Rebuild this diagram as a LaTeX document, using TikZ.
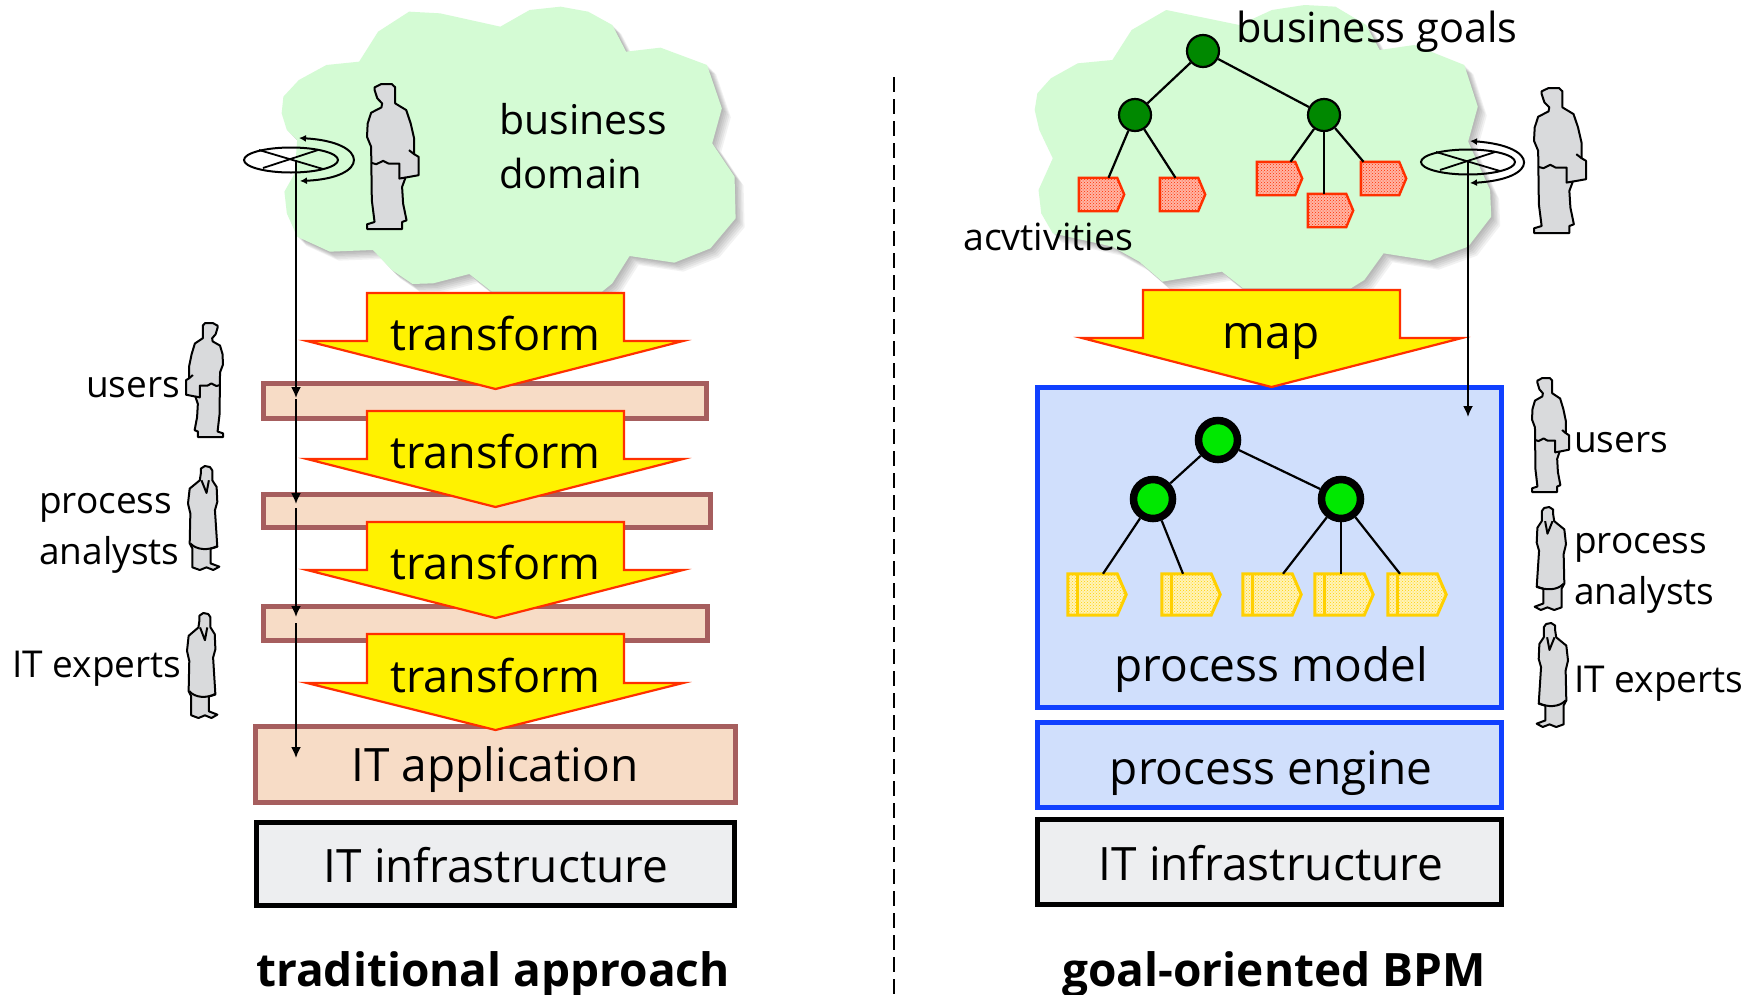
\documentclass[tikz,border=0pt]{standalone}
\usepackage{fontspec}
\setmainfont{Open Sans}
\usetikzlibrary{arrows.meta,patterns,shapes.geometric}
\definecolor{cloudfill}{HTML}{D4FBD4}
\definecolor{rosefill}{HTML}{F7DCC6}
\definecolor{roseline}{HTML}{A65E5E}
\definecolor{bluefill}{HTML}{D0DFFC}
\definecolor{blueline}{HTML}{1040FF}
\definecolor{grayfill}{HTML}{EDEEF0}
\definecolor{personfill}{HTML}{D9DADC}
\definecolor{goaldark}{HTML}{008800}
\definecolor{goallight}{HTML}{00E800}
\definecolor{arrowred}{HTML}{FF3000}
\definecolor{actyellow}{HTML}{FFD000}
\definecolor{actyellowbg}{HTML}{FFF3B8}
\definecolor{actredbg}{HTML}{FFB4A4}
\tikzset{
  personline/.style={draw=black,fill=personfill,line width=2pt,line join=round},
  personinner/.style={draw=black,line width=2pt,line join=round},
  bigarrow/.style={draw=arrowred,fill=yellow,line width=2.2pt,line join=miter},
  rosebox/.style={draw=roseline,fill=rosefill,line width=5pt},
  bluebox/.style={draw=blueline,fill=bluefill,line width=5pt},
  graybox/.style={draw=black,fill=grayfill,line width=5pt},
  lbl/.style={inner sep=0,anchor=base west,font=\fontsize{37pt}{44pt}\selectfont},
  big/.style={inner sep=0,anchor=base,font=\fontsize{46pt}{52pt}\selectfont},
  ttl/.style={inner sep=0,anchor=base,font=\fontsize{46pt}{52pt}\selectfont\bfseries},
  goal/.style={circle,draw=black,fill=goaldark,line width=2.2pt,minimum size=32pt,inner sep=0},
  mgoal/.style={circle,draw=black,fill=goallight,line width=7.5pt,minimum size=39pt,inner sep=0},
  tie/.style={draw=black,line width=2.2pt},
  thinl/.style={draw=black,line width=1.8pt},
  ringn/.style={ellipse,draw=black,line width=2pt,minimum width=94pt,minimum height=25pt,inner sep=0},
  flow/.style={thinl,-{Latex[length=11pt,width=10pt]}},
  turn/.style={draw=black,line width=2pt,{Latex[length=7pt,width=7pt]}-{Latex[length=7pt,width=7pt]}},
}
% person with briefcase
\newcommand{\bizman}[4]{%
\begin{scope}[shift={(#1,#2)},xscale=#3/150,yscale=#4/434]
\begin{scope}[shift={(-398,-252)}]
\path[personline] (420,262)--(440,252)--(470,252)--(480,262)--(480,310)--(512,330)--(525,370)--(535,415)--(535,462)--(548,470)--(548,525)--(510,532)--(500,560)--(503,610)--(513,660)--(500,665)--(500,686)--(398,686)--(398,672)--(420,665)--(412,600)--(410,440)--(398,410)--(400,370)--(410,338)--(440,322)--(442,310)--(428,295)--(420,270)--cycle;
\path[personinner] (410,488)--(425,492)--(445,482)--(460,490)--(492,490)--(492,535)--(510,532);
\path[personinner] (520,450)--(535,462);
\end{scope}
\end{scope}}
% person in robe
\newcommand{\robe}[4]{%
\begin{scope}[shift={(#1,#2)},xscale=#3/95,yscale=#4/313]
\begin{scope}[shift={(-565,-467)}]
\path[personline] (603,475)--(615,467)--(630,470)--(637,480)--(637,510)--(650,530)--(652,575)--(645,600)--(652,710)--(632,716)--(632,760)--(658,770)--(640,780)--(620,772)--(600,780)--(578,772)--(578,715)--(570,700)--(572,610)--(565,580)--(570,535)--(600,510)--(603,490)--cycle;
\path[personinner] (605,510)--(620,548)--(627,510);
\path[personinner] (572,700) .. controls (590,720) and (625,722) .. (652,708);
\end{scope}
\end{scope}}
\newcommand{\cloudL}{(155,290)--(150,340)--(165,390)--(195,420)--(188,520)--(158,575)--(165,640)--(195,710)--(290,755)--(415,750)--(470,810)--(530,852)--(590,850)--(695,822)--(760,875)--(1080,875)--(1110,850)--(1160,768)--(1290,788)--(1395,745)--(1468,655)--(1465,530)--(1400,430)--(1428,325)--(1385,195)--(1250,143)--(1150,155)--(1110,75)--(1040,35)--(960,20)--(870,30)--(785,80)--(610,40)--(520,35)--(430,95)--(375,185)--(280,195)--(200,240)--cycle}
\newcommand{\cloudR}{(105,280)--(98,330)--(110,390)--(145,475)--(108,570)--(115,640)--(145,700)--(300,740)--(370,785)--(430,845)--(585,815)--(640,865)--(920,865)--(955,840)--(1005,760)--(1125,782)--(1225,740)--(1285,650)--(1282,570)--(1225,425)--(1250,320)--(1215,195)--(1085,135)--(995,150)--(960,75)--(880,20)--(800,15)--(715,30)--(630,75)--(440,30)--(350,90)--(300,180)--(210,190)--(140,235)--cycle}
\newcommand{\cloudshape}[3]{%
\foreach \d in {1.5,3,4.5,6,7.5,9}{
  \fill[black,opacity=0.05,shift={(#1+\d,\d)},xscale=#2,yscale=0.3333] #3;
}
\fill[cloudfill,shift={(#1,0)},xscale=#2,yscale=0.3333] #3;}
\newcommand{\redact}[3]{%
\node[inner sep=0,minimum width=45pt,minimum height=33pt] (#1) at (#2+22.5,#3+16.5) {};
\path[fill=actredbg] (#1.north west)--([xshift=-7pt]#1.north east)--(#1.east)--([xshift=-7pt]#1.south east)--(#1.south west)--cycle;
\path[pattern=crosshatch dots,pattern color=arrowred] (#1.north west)--([xshift=-7pt]#1.north east)--(#1.east)--([xshift=-7pt]#1.south east)--(#1.south west)--cycle;
\path[draw=arrowred,line width=2.4pt] (#1.north west)--([xshift=-7pt]#1.north east)--(#1.east)--([xshift=-7pt]#1.south east)--(#1.south west)--cycle;}
\newcommand{\yelact}[3]{%
\node[inner sep=0,minimum width=58pt,minimum height=41pt] (#1) at (#2+29,#3+20.5) {};
\path[fill=actyellowbg] (#1.north west)--([xshift=-9pt]#1.north east)--(#1.east)--([xshift=-9pt]#1.south east)--(#1.south west)--cycle;
\path[pattern=crosshatch dots,pattern color=actyellow] (#1.north west)--([xshift=-9pt]#1.north east)--(#1.east)--([xshift=-9pt]#1.south east)--(#1.south west)--cycle;
\path[draw=actyellow,line width=3pt] (#1.north west)--([xshift=-9pt]#1.north east)--(#1.east)--([xshift=-9pt]#1.south east)--(#1.south west)--cycle;
\path[draw=actyellow,line width=3pt] ([xshift=10pt]#1.north west)--([xshift=10pt]#1.south west);}
\newcommand{\bigarrowat}[5]{%
\path[bigarrow] (#1,#2)--(#1+257,#2)--(#1+257,#3)--(#1+316,#3)--(#1+128.5,#4)--(#1-60,#3)--(#1,#3)--cycle;
\node[big,font=\fontsize{45pt}{52pt}\selectfont] at (#1+128.5,#3+9.5) {#5};}
\begin{document}
\begin{tikzpicture}[x=1pt,y=-1pt]
\useasboundingbox (0,0) rectangle (1756,994);
\fill[white] (0,0) rectangle (1756,994);
% clouds
\cloudshape{230}{0.3444}{\cloudL}
\cloudshape{997}{0.3846}{\cloudR}
% divider
\coordinate (divtop) at (894,77);
\coordinate (divbot) at (894,994);
\draw[black,line width=2pt,dash pattern=on 15pt off 7pt] (divtop)--(divbot);
% left stack boxes
\node[rosebox,minimum width=443pt,minimum height=35pt,inner sep=0] (r1) at (485,401) {};
\node[rosebox,minimum width=447pt,minimum height=33pt,inner sep=0] (r2) at (487,511) {};
\node[rosebox,minimum width=444pt,minimum height=34pt,inner sep=0] (r3) at (485.5,623) {};
\node[rosebox,minimum width=480pt,minimum height=76pt,inner sep=0] (app) at (495.5,764) {};
\node[graybox,minimum width=478pt,minimum height=83pt,inner sep=0] (infL) at (495,864) {};
\node[big,anchor=base] at (495,781) {IT application};
\node[big,anchor=base] at (496,882) {IT infrastructure};
% transform arrows
\bigarrowat{367}{293}{341}{389}{transform}
\bigarrowat{367}{411}{459}{507}{transform}
\bigarrowat{367}{522}{570}{618}{transform}
\bigarrowat{367}{634}{683}{730}{transform}
% left flow
\node[ringn] (ringL) at (291,160) {};
\draw[thinl] (259,150)--(323,169);
\draw[thinl] (263,168)--(318,150);
\coordinate (fs) at (296,160);
\coordinate (f1) at (296,398);
\coordinate (f1b) at (296,399);
\coordinate (f2) at (296,504);
\coordinate (f2b) at (296,508);
\coordinate (f3) at (296,617);
\coordinate (f3b) at (296,623);
\coordinate (f4) at (296,758);
\draw[flow] (fs)--(f1);
\draw[flow] (f1b)--(f2);
\draw[flow] (f2b)--(f3);
\draw[flow] (f3b)--(f4);
\coordinate (tLa) at (299,138);
\coordinate (tLb) at (300,181);
\draw[turn] (tLa) .. controls (370,142) and (370,178) .. (tLb);
\bizman{367}{84}{51.6}{145}
\node[lbl,font=\fontsize{41pt}{48pt}\selectfont] at (499,134) {business};
\node[lbl,font=\fontsize{40pt}{48pt}\selectfont] at (499,188) {domain};
% left people
\bizman{223}{323}{-37}{114}
\robe{188}{466}{32}{104}
\robe{187}{613}{31}{105}
\node[lbl] at (86,397) {users};
\node[lbl] at (39,513) {process};
\node[lbl] at (39,564) {analysts};
\node[lbl] at (12,677) {IT experts};
\node[ttl] at (493,986) {traditional approach};
% right stack
\node[bluebox,minimum width=464pt,minimum height=320pt,inner sep=0] (pm) at (1269,547.5) {};
\node[bluebox,minimum width=464pt,minimum height=85pt,inner sep=0] (pe) at (1269,765) {};
\node[graybox,minimum width=464pt,minimum height=85pt,inner sep=0] (infR) at (1269.5,862) {};
\node[big] at (1271,681) {process model};
\node[big] at (1271,784) {process engine};
\node[big] at (1271,880) {IT infrastructure};
% map arrow
\path[bigarrow] (1143,290)--(1400,290)--(1400,338)--(1462,338)--(1271.5,387)--(1082,338)--(1143,338)--cycle;
\node[big] at (1271,348) {map};
% business goals tree
\node[goal] (g1) at (1203,51) {};
\node[goal] (g2) at (1135,115) {};
\node[goal] (g3) at (1324,115) {};
\redact{a1}{1079}{178}
\redact{a2}{1160}{178}
\redact{a3}{1257}{162}
\redact{a4}{1308}{194}
\redact{a5}{1361}{162}
\draw[tie] (g1)--(g2);
\draw[tie] (g1)--(g3);
\draw[tie] (g2)--([xshift=7pt]a1.north);
\draw[tie] (g2)--([xshift=-7pt]a2.north);
\draw[tie] (g3)--([xshift=11pt]a3.north);
\draw[tie] (g3)--([xshift=-6.5pt]a4.north);
\draw[tie] (g3)--([xshift=-20pt]a5.north);
\node[lbl,font=\fontsize{41.5pt}{48pt}\selectfont] at (1236,42) {business goals};
\node[lbl,font=\fontsize{37.5pt}{44pt}\selectfont] at (963,250) {acvtivities};
% right flow
\node[ringn] (ringR) at (1468,162) {};
\draw[thinl] (1436,152)--(1500,171);
\draw[thinl] (1440,170)--(1495,152);
\coordinate (hs) at (1468,162);
\coordinate (he) at (1468,417);
\draw[flow] (hs)--(he);
\coordinate (tRa) at (1470,141);
\coordinate (tRb) at (1470,183);
\draw[turn] (tRa) .. controls (1540,146) and (1540,179) .. (tRb);
\bizman{1534}{88}{52}{145}
% process model tree
\node[mgoal] (m1) at (1218,440) {};
\node[mgoal] (m2) at (1153,499) {};
\node[mgoal] (m3) at (1341,499) {};
\yelact{b1}{1068}{574}
\yelact{b2}{1162}{574}
\yelact{b3}{1243}{574}
\yelact{b4}{1315}{574}
\yelact{b5}{1388}{574}
\draw[tie] (m1)--(m2);
\draw[tie] (m1)--(m3);
\draw[tie] (m2)--([xshift=6pt]b1.north);
\draw[tie] (m2)--([xshift=-8pt]b2.north);
\draw[tie] (m3)--([xshift=11pt]b3.north);
\draw[tie] (m3)--([xshift=-3pt]b4.north);
\draw[tie] (m3)--([xshift=-17pt]b5.north);
% right people
\bizman{1532}{378}{37}{114}
\robe{1566}{507}{-32}{103}
\robe{1568}{623}{-32}{104}
\node[lbl] at (1574,452) {users};
\node[lbl] at (1574,553) {process};
\node[lbl] at (1574,604) {analysts};
\node[lbl] at (1574,692) {IT experts};
\node[ttl] at (1274,986) {goal-oriented BPM};
\end{tikzpicture}
\end{document}
